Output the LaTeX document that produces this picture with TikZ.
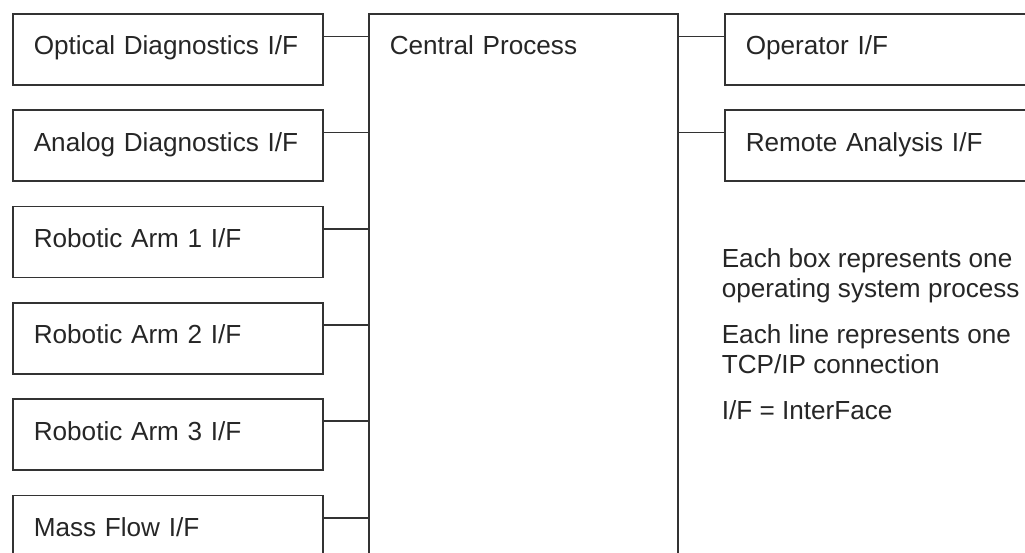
\documentclass[tikz,border=0pt]{standalone}
\usepackage{fontspec}
\setmainfont{Liberation Sans}
\usepackage{tikz}
\usetikzlibrary{positioning}

\begin{document}
\begin{tikzpicture}[x=0.75pt, y=-0.75pt, line width=1.2pt,
    ifbox/.style={draw=black!80, anchor=north west, align=left, text=black!85, text width=201pt, inner xsep=15.75pt, inner ysep=0pt, text height=30.75pt, text depth=22.5pt, font=\fontsize{19.6}{23.5}\selectfont},
    mainbox/.style={ifbox, text width=200.25pt, text depth=409.5pt},
    rightbox/.style={ifbox, text width=205.5pt},
    link/.style={draw=black!80}]

    \useasboundingbox (0,0) rectangle (1025,553);
    \clip (0,0) rectangle (1025,553);

    %Nodes
    \node[ifbox](optical) at (12,13){Optical Diagnostics I/F};
    \node[ifbox](analog)[below=17.8pt of optical]{Analog Diagnostics I/F};
    \node[ifbox](arm1)[below=17.8pt of analog]{Robotic Arm 1 I/F};
    \node[ifbox](arm2)[below=17.8pt of arm1]{Robotic Arm 2 I/F};
    \node[ifbox](arm3)[below=17.8pt of arm2]{Robotic Arm 3 I/F};
    \node[ifbox](massflow)[below=17.8pt of arm3]{Mass Flow I/F};
    \node[mainbox](central) at (368,13){Central Process};
    \node[rightbox](operator) at (724,13){Operator I/F};
    \node[rightbox](remote)[below=17.8pt of operator]{Remote Analysis I/F};
    \node[anchor=base west, align=left, inner sep=0pt, text=black!85, font=\fontsize{19.6}{22.5}\selectfont](note) at (721,419){Each box represents one\\operating system process\\[12pt]Each line represents one\\TCP/IP connection\\[12pt]I/F = InterFace};

    %Lines
    \coordinate (optical-c) at ([yshift=-17.6pt]optical.north east);
    \coordinate (analog-c) at ([yshift=-17.3pt]analog.north east);
    \coordinate (arm1-c) at ([yshift=-17.3pt]arm1.north east);
    \coordinate (arm2-c) at ([yshift=-17.3pt]arm2.north east);
    \coordinate (arm3-c) at ([yshift=-16.8pt]arm3.north east);
    \coordinate (massflow-c) at ([yshift=-17.6pt]massflow.north east);
    \coordinate (operator-c) at ([yshift=-17.6pt]operator.north west);
    \coordinate (remote-c) at ([yshift=-17.3pt]remote.north west);
    \draw[link] (optical-c) -- (optical-c -| central.west);
    \draw[link] (analog-c) -- (analog-c -| central.west);
    \draw[link] (arm1-c) -- (arm1-c -| central.west);
    \draw[link] (arm2-c) -- (arm2-c -| central.west);
    \draw[link] (arm3-c) -- (arm3-c -| central.west);
    \draw[link] (massflow-c) -- (massflow-c -| central.west);
    \draw[link] (central.east |- operator-c) -- (operator-c);
    \draw[link] (central.east |- remote-c) -- (remote-c);

\end{tikzpicture}
\end{document}
